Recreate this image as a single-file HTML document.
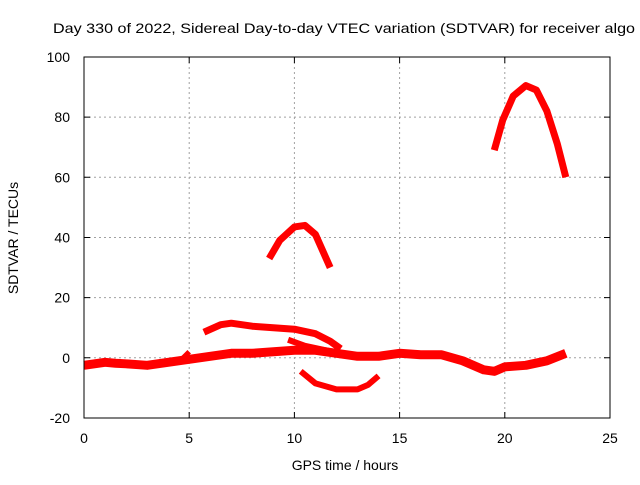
<!DOCTYPE html>
<html><head><meta charset="utf-8"><style>
body{margin:0;background:#fff}
svg text{font-family:"Liberation Sans",sans-serif;font-size:14px;fill:#000}
</style></head><body>
<svg id="chart" width="640" height="480" xmlns="http://www.w3.org/2000/svg">
<text x="53" y="33" textLength="582" lengthAdjust="spacingAndGlyphs">Day 330 of 2022, Sidereal Day-to-day VTEC variation (SDTVAR) for receiver algo</text>
<g id="grid"></g>
<g id="series"></g>
<rect x="84" y="57" width="526" height="361" fill="none" stroke="#000" stroke-width="1"/>
<g id="ticks"></g>
<text x="345" y="470" text-anchor="middle">GPS time / hours</text>
<text transform="translate(18,238) rotate(-90)" text-anchor="middle">SDTVAR / TECUs</text>
</svg>
<script>
const xTicks=[0,5,10,15,20,25];
const yTicks=[-20,0,20,40,60,80,100];
const seriesMain=[[0,-2.5],[0.5,-2],[1,-1.5],[1.5,-1.8],[2,-2],[3,-2.5],[4,-1.5],[5,-0.5],[6,0.5],[7,1.5],[8,1.5],[9,2],[10,2.5],[11,2.5],[12,1.5],[13,0.5],[14,0.5],[15,1.5],[16,1],[17,1],[18,-1],[19,-4],[19.5,-4.5],[20,-3],[21,-2.5],[22,-1],[22.9,1.5]];
const seriesUpper=[[5.7,8.5],[6.5,11],[7,11.5],[8,10.5],[9,10],[10,9.5],[11,8],[11.7,5.5],[12.2,3]];
const seriesBranch=[[9.7,6],[10.5,4],[11.5,2.5],[12.5,1]];
const seriesSpike=[[4.5,-1.5],[5,2]];
const seriesLow=[[10.3,-4.5],[11,-8.5],[12,-10.5],[13,-10.5],[13.5,-9],[14,-6]];
const seriesArc1=[[8.8,33],[9.3,39],[10,43.5],[10.5,44],[11,41],[11.7,30]];
const seriesArc2=[[19.5,69],[19.9,79],[20.4,87],[21,90.5],[21.5,89],[22,82],[22.5,71],[22.9,60]];
const NS="http://www.w3.org/2000/svg";
const X=v=>84+v*(526/25);
const Y=v=>357.8-v*(361/120);
const grid=document.getElementById('grid'),ticks=document.getElementById('ticks'),ser=document.getElementById('series');
function mk(t,a,p){const e=document.createElementNS(NS,t);for(const k in a)e.setAttribute(k,a[k]);p.appendChild(e);return e;}
xTicks.forEach(t=>{
 if(t>0&&t<25){const g=mk('line',{x1:X(t),x2:X(t),y1:57,y2:418,stroke:'#a0a0a0','stroke-dasharray':'2,3'},grid);
 
 }
 const m=mk('path',{d:`M${X(t)},418v-6M${X(t)},57v6`,stroke:'#000'},ticks);
 
 
 const l=mk('text',{x:X(t),y:443,'text-anchor':'middle'},ticks);l.textContent=t;
 
 
});
yTicks.forEach(t=>{
 if(t>-20&&t<100){const g=mk('line',{x1:84,x2:610,y1:Y(t),y2:Y(t),stroke:'#a0a0a0','stroke-dasharray':'2,3'},grid);
 
 }
 const m=mk('path',{d:`M84,${Y(t)}h6M610,${Y(t)}h-6`,stroke:'#000'},ticks);
 
 
 const l=mk('text',{x:70,y:Y(t)+5,'text-anchor':'end'},ticks);l.textContent=t;
 
 
});
[[seriesMain,9],[seriesUpper,7],[seriesBranch,6],[seriesSpike,5],[seriesLow,6],[seriesArc1,7],[seriesArc2,7]].forEach(([s,w])=>{
 const p=mk('polyline',{points:s.map(d=>X(d[0])+','+Y(d[1])).join(' '),fill:'none',stroke:'#ff0000','stroke-width':w,'stroke-linejoin':'round','stroke-linecap':'butt'},ser);
 
 
});
</script>
</body></html>
